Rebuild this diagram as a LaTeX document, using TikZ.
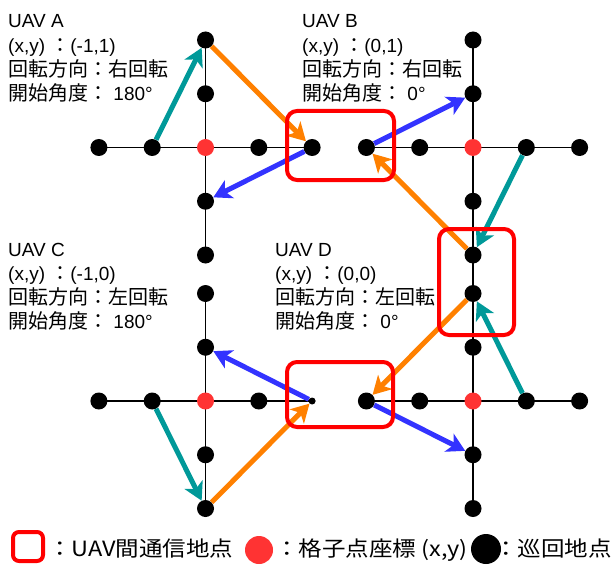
\documentclass[tikz,border=0pt]{standalone}
\usepackage{fontspec}
\setmainfont{Liberation Sans}
\newfontfamily\jpfont{Noto Sans CJK JP}
\newfontfamily\jplegend{Noto Sans CJK JP}[FakeStretch=1.12]
\usetikzlibrary{arrows.meta,backgrounds}

\definecolor{moveteal}{RGB}{0,153,153}
\definecolor{moveorange}{RGB}{255,128,0}
\definecolor{moveblue}{RGB}{51,51,255}
\definecolor{boxred}{RGB}{255,0,0}
\definecolor{gridred}{RGB}{255,51,51}

% Japanese text inside the UAV info lines
\newcommand{\jp}[1]{{\jpfont\fontsize{20}{24}\selectfont #1}}

\tikzset{
  dot/.style={circle, fill=black, minimum size=17pt, inner sep=0pt},
  smalldot/.style={dot, minimum size=7pt},
  gridpoint/.style={dot, fill=gridred},
  gridline/.style={line width=1.3pt, black},
  move/.style={line width=5pt, -{Stealth[length=18pt,width=20pt,inset=5pt]}},
  commbox/.style={draw=boxred, line width=4pt, rounded corners=10pt, inner sep=0pt},
  info/.style={anchor=base west, inner sep=0pt, font=\fontsize{19}{24}\selectfont},
  legendtext/.style={anchor=base west, inner sep=0pt, font=\jplegend\fontsize{21}{24}\selectfont},
}

\begin{document}
\begin{tikzpicture}[x=1pt, y=-1pt]
\useasboundingbox (0,0) rectangle (612,564);

% patrol crosses: centre (red) plus two points on each arm
\foreach \n/\cx/\cy/\es in {A/205.5/147.5/dot, B/473/147.5/dot, C/205.5/401/smalldot, D/473/401/dot}{
  \node[gridpoint] (\n-c)  at (\cx,\cy) {};
  \node[dot] (\n-w2) at (\cx-106.6,\cy) {};
  \node[dot] (\n-w1) at (\cx-53.3,\cy) {};
  \node[dot] (\n-e1) at (\cx+53.3,\cy) {};
  \node[\es] (\n-e2) at (\cx+106.6,\cy) {};
  \node[dot] (\n-n2) at (\cx,\cy-107.5) {};
  \node[dot] (\n-n1) at (\cx,\cy-53.75) {};
  \node[dot] (\n-s1) at (\cx,\cy+53.75) {};
  \node[dot] (\n-s2) at (\cx,\cy+107.5) {};
}

\begin{scope}[on background layer]
  \foreach \n in {A,B,C,D}{
    \draw[gridline] (\n-w2.center) -- (\n-e2.center);
    \draw[gridline] (\n-n2.center) -- (\n-s2.center);
  }
  \draw[gridline] (B-s2.center) -- (D-n2.center);
\end{scope}

% UAV A
\draw[move, moveteal]   (A-w1) -- (A-n2);
\draw[move, moveorange] (A-n2) -- (A-e2);
\draw[move, moveblue]   (A-e2) -- (A-s1);
% UAV B
\draw[move, moveblue]   (B-w2) -- (B-n1);
\draw[move, moveorange] (B-s2) -- (B-w2);
\draw[move, moveteal]   (B-e1) -- (B-s2);
% UAV C
\draw[move, moveblue]   (C-e2) -- (C-n1);
\draw[move, moveorange] (C-s2) -- (C-e2);
\draw[move, moveteal]   (C-w1) -- (C-s2);
% UAV D
\draw[move, moveorange] (D-n2) -- (D-w2);
\draw[move, moveteal]   (D-e1) -- (D-n2);
\draw[move, moveblue]   (D-w2) -- (D-s1);

% communication points between UAVs
\node[commbox, minimum width=107pt, minimum height=69pt] (link-AB) at (340.5,145.5) {};
\node[commbox, minimum width=106pt, minimum height=65pt] (link-CD) at (340,394.5) {};
\node[commbox, minimum width=75pt, minimum height=106pt] (link-BD) at (476.5,282) {};

% UAV info
\node[info] (A-name) at (8,28)    {UAV A};
\node[info] (A-pos)  at (8,52.2)  {(x,y) \jp{：}(-1,1)};
\node[info] (A-dir)  at (8,76.4)  {\jp{回転方向：右回転}};
\node[info] (A-ang)  at (8,100.6) {\jp{開始角度：} 180°};

\node[info] (B-name) at (302,28)    {UAV B};
\node[info] (B-pos)  at (302,52.2)  {(x,y) \jp{：}(0,1)};
\node[info] (B-dir)  at (302,76.4)  {\jp{回転方向：右回転}};
\node[info] (B-ang)  at (302,100.6) {\jp{開始角度：} 0°};

\node[info] (C-name) at (8,256)   {UAV C};
\node[info] (C-pos)  at (8,280)   {(x,y) \jp{：}(-1,0)};
\node[info] (C-dir)  at (8,304)   {\jp{回転方向：左回転}};
\node[info] (C-ang)  at (8,328)   {\jp{開始角度：} 180°};

\node[info] (D-name) at (275,256) {UAV D};
\node[info] (D-pos)  at (275,280) {(x,y) \jp{：}(0,0)};
\node[info] (D-dir)  at (275,304) {\jp{回転方向：左回転}};
\node[info] (D-ang)  at (275,328) {\jp{開始角度：} 0°};

% legend
\node[commbox, rounded corners=6pt, minimum width=30pt, minimum height=29pt] (key-box) at (28,546.5) {};
\node[legendtext] (key-box-text) at (48,556) {：UAV間通信地点};
\node[circle, fill=gridred, minimum size=28pt, inner sep=0pt] (key-grid) at (259,550) {};
\node[legendtext] (key-grid-text) at (275,556) {：格子点座標 (x,y)};
\node[circle, fill=black, minimum size=30pt, inner sep=0pt] (key-dot) at (486,549) {};
\node[legendtext] (key-dot-text) at (494,556) {：巡回地点};
\end{tikzpicture}
\end{document}
